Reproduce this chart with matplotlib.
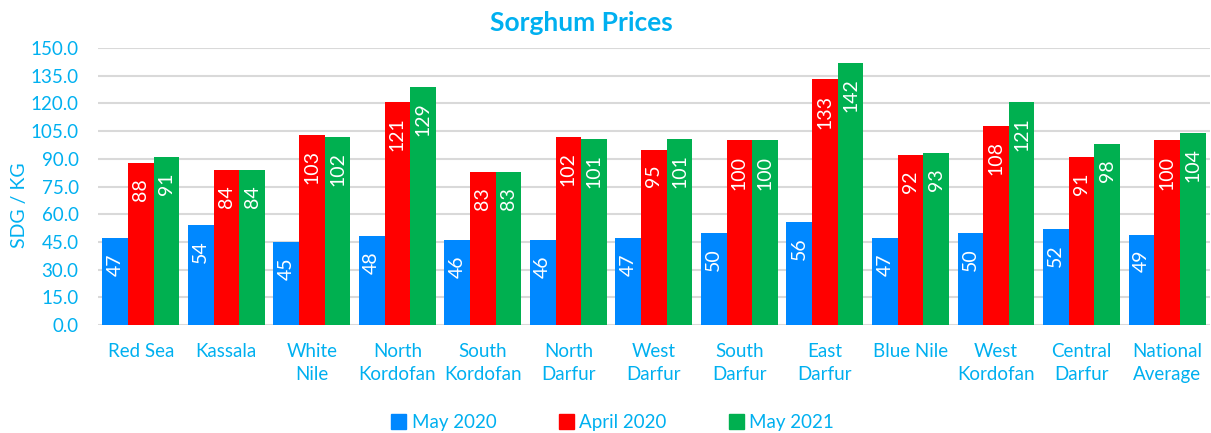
import matplotlib.pyplot as plt
import numpy as np
from matplotlib.patches import Patch

plt.rcParams['font.family'] = ['Lato', 'DejaVu Sans']

states = ['Red Sea', 'Kassala', 'White\nNile', 'North\nKordofan', 'South\nKordofan',
          'North\nDarfur', 'West\nDarfur', 'South\nDarfur', 'East\nDarfur', 'Blue Nile',
          'West\nKordofan', 'Central\nDarfur', 'National\nAverage']
may_2020 = [47, 54, 45, 48, 46, 46, 47, 50, 56, 47, 50, 52, 49]
april_2020 = [88, 84, 103, 121, 83, 102, 95, 100, 133, 92, 108, 91, 100]
may_2021 = [91, 84, 102, 129, 83, 101, 101, 100, 142, 93, 121, 98, 104]
series_names = ['May 2020', 'April 2020', 'May 2021']

text_blue = '#00B0F0'
colors = ['#0088FF', '#FF0000', '#00B050']

fig = plt.figure(figsize=(12.11, 4.33), dpi=100)
ax = fig.add_axes([0.081, 0.2494, 0.918, 0.6397])

x = np.arange(len(states))
w = 0.3
for i, vals in enumerate([may_2020, april_2020, may_2021]):
    bars = ax.bar(x + (i - 1) * w, vals, w, color=colors[i], zorder=3)
    for b, v in zip(bars, vals):
        ax.annotate(str(v), (b.get_x() + b.get_width() / 2, b.get_height()),
                    xytext=(0, -11), textcoords='offset points',
                    rotation=90, ha='center', va='top', color='white', fontsize=14)

ax.set_xlim(-0.5, len(states) - 0.5)
ax.set_ylim(0, 150)
ax.set_yticks(np.arange(0, 151, 15))
ax.set_yticklabels([f'{v:.1f}' for v in np.arange(0, 151, 15)])
ax.set_xticks(x)
ax.set_xticklabels(states, linespacing=1.4)
ax.tick_params(axis='both', length=0, labelcolor=text_blue, labelsize=13.5)
ax.tick_params(axis='y', pad=14)
ax.tick_params(axis='x', pad=13)
ax.grid(axis='y', color='#D9D9D9', linewidth=1.5, zorder=0)
for s in ax.spines.values():
    s.set_visible(False)

fig.text(0.48, 0.948, 'Sorghum Prices', ha='center', va='center',
         fontsize=19, fontweight='bold', color=text_blue)
fig.text(0.016, 0.525, 'SDG / KG', rotation=90, ha='center', va='center',
         fontsize=14, color=text_blue)

handles = [Patch(color=c) for c in colors]
leg = fig.legend(handles, series_names, loc='center', bbox_to_anchor=(0.506, 0.024),
                 ncol=3, frameon=False, fontsize=13.5, handlelength=0.8,
                 handleheight=0.8, handletextpad=0.3, columnspacing=3.3)
for t in leg.get_texts():
    t.set_color(text_blue)

plt.savefig('out.png')
